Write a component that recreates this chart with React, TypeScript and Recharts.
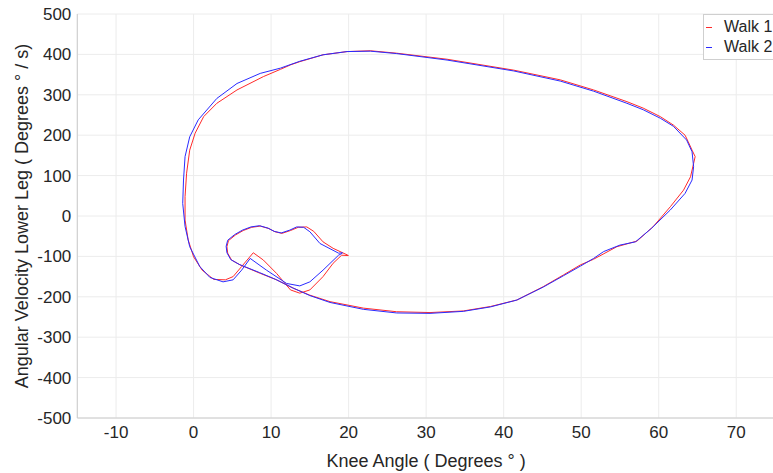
import { LineChart, Line, XAxis, YAxis, CartesianGrid, Label } from 'recharts'

const walk1Angle = [
  19.9, 18.0, 16.7, 15.5, 14.6, 13.5, 12.5, 11.4, 10.5, 9.7, 8.6, 7.5, 6.4, 5.4, 4.5, 4.3, 4.4, 4.9, 6.0, 8.6,
  10.7, 12.9, 15.0, 17.6, 21.9, 26.2, 30.5, 34.8, 38.3, 41.7, 45.1, 47.7, 49.9, 51.6, 54.6, 57.2, 59.3, 61.5,
  63.2, 64.1, 64.5, 64.7, 64.3, 63.8, 63.4, 61.9, 60.2, 58.0, 55.9, 51.6, 47.3, 41.3, 32.7, 26.2, 22.8, 19.8,
  16.7, 13.7, 12.5, 11.2, 9.0, 5.6, 3.0, 1.3, 0.2, -0.5, -0.9, -1.1, -1.1, -0.7, 0.0, 1.1, 2.6, 4.1, 5.1, 6.2,
  7.7, 9.0, 10.7, 12.5, 13.7, 15.0, 16.7, 18.0, 19.1, 20.0,
]
const walk1Velocity = [
  -97, -80, -64, -38, -27, -28, -36, -43, -39, -31, -25, -28, -36, -47, -61, -76, -92, -109, -121, -142,
  -158, -179, -196, -212, -228, -237, -239, -235, -224, -208, -175, -146, -121, -107, -76, -62, -26, 23,
  64, 97, 130, 147, 163, 184, 200, 225, 246, 267, 283, 312, 337, 361, 388, 403, 409, 407,
  399, 382, 374, 363, 345, 312, 279, 246, 205, 163, 106, 48, -10, -59, -101, -134, -157, -158, -150, -125,
  -91, -109, -142, -183, -191, -183, -150, -117, -97, -98,
]

const walk2Angle = [
  19.2, 18.7, 16.3, 15.0, 14.2, 13.3, 12.4, 11.3, 10.4, 9.6, 8.5, 7.4, 6.3, 5.3, 4.4, 4.2, 4.3, 4.8, 5.9, 8.5,
  10.6, 12.8, 15.0, 17.6, 21.9, 26.2, 30.5, 34.8, 38.3, 41.7, 45.1, 47.7, 49.9, 51.6, 52.9, 55.0, 57.0, 59.1,
  61.5, 63.4, 64.3, 64.5, 64.3, 63.6, 61.9, 60.2, 58.0, 55.9, 51.6, 47.3, 41.3, 32.7, 26.2, 22.8, 19.8, 16.7,
  13.7, 11.2, 8.6, 5.6, 3.0, 0.6, -0.5, -1.1, -1.3, -1.4, -1.1, -0.5, 0.8, 2.1, 3.8, 5.1, 6.2, 7.3, 9.4, 12.0,
  13.7, 15.0, 16.7, 18.7, 19.2,
]
const walk2Velocity = [
  -91, -92, -68, -39, -28, -27, -35, -42, -38, -30, -24, -27, -35, -46, -60, -75, -91, -108, -120, -140,
  -157, -178, -197, -214, -231, -240, -241, -236, -225, -208, -176, -148, -124, -105, -88, -72, -64, -30,
  15, 56, 89, 122, 159, 188, 222, 242, 263, 279, 309, 334, 359, 386, 402, 408, 407, 399,
  383, 366, 353, 328, 291, 238, 196, 147, 89, 31, -26, -76, -125, -152, -163, -158, -134, -105, -134, -167,
  -173, -163, -134, -97, -92,
]

const xTicks = [-10, 0, 10, 20, 30, 40, 50, 60, 70]
const yTicks = [-500, -400, -300, -200, -100, 0, 100, 200, 300, 400, 500]

const walk1 = walk1Angle.map((x, i) => ({ x, y: walk1Velocity[i] }))
const walk2 = walk2Angle.map((x, i) => ({ x, y: walk2Velocity[i] }))

const FONT = '"Liberation Sans", Arial, Helvetica, sans-serif'
const TEXT = '#262626'
const RED = '#ff2a2a'
const BLUE = '#2a2aff'

const legendItems = [
  { name: 'Walk 1', color: RED },
  { name: 'Walk 2', color: BLUE },
]

function LegendBox() {
  return (
    <div
      style={{
        position: 'absolute',
        left: 703,
        top: 14,
        background: '#fff',
        border: '1px solid #cfcfcf',
        padding: '2px 10px 2px 2px',
        fontFamily: FONT,
        fontSize: 16,
        color: TEXT,
        whiteSpace: 'nowrap',
      }}
    >
      {legendItems.map((d) => (
        <div key={d.name} style={{ display: 'flex', alignItems: 'center', height: 20 }}>
          <span style={{ width: 6, height: 1, background: d.color, display: 'inline-block', marginRight: 12 }} />
          {d.name}
        </div>
      ))}
    </div>
  )
}

export default function App() {
  return (
    <div style={{ position: 'absolute', left: 0, top: 0, width: 773, height: 473, overflow: 'hidden', background: '#fff' }}>
      <LineChart width={780} height={473} margin={{ top: 14, right: 5, bottom: 0, left: 0 }}>
        <CartesianGrid stroke="#ececec" />
        <XAxis
          type="number"
          dataKey="x"
          domain={[-15, 75]}
          ticks={xTicks}
          height={55}
          tickLine={false}
          axisLine={{ stroke: '#cccccc' }}
          tick={{ fill: TEXT, fontSize: 17, fontFamily: FONT }}
          allowDataOverflow
        >
          <Label value="Knee Angle ( Degrees ° )" position="insideBottom" offset={6} style={{ fill: TEXT, fontSize: 18, fontFamily: FONT }} />
        </XAxis>
        <YAxis
          type="number"
          dataKey="y"
          domain={[-500, 500]}
          ticks={yTicks}
          width={77.3}
          tickLine={false}
          tickMargin={0}
          axisLine={{ stroke: '#cccccc' }}
          tick={{ fill: TEXT, fontSize: 17, fontFamily: FONT }}
          allowDataOverflow
        >
          <Label
            value="Angular Velocity Lower Leg ( Degrees ° / s)"
            angle={-90}
            position="insideLeft"
            offset={22}
            style={{ fill: TEXT, fontSize: 18, fontFamily: FONT, textAnchor: 'middle' }}
          />
        </YAxis>
        <Line data={walk1} dataKey="y" name="Walk 1" stroke={RED} strokeWidth={1} dot={false} isAnimationActive={false} />
        <Line data={walk2} dataKey="y" name="Walk 2" stroke={BLUE} strokeWidth={1} dot={false} isAnimationActive={false} />
      </LineChart>
      <LegendBox />
    </div>
  )
}
